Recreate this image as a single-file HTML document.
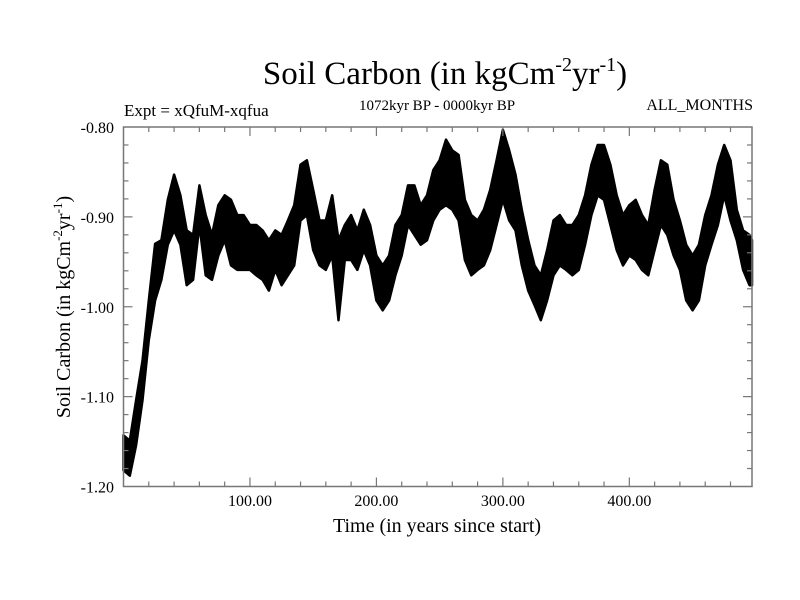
<!DOCTYPE html>
<html><head><meta charset="utf-8"><style>
body{margin:0;background:#fff;}
svg{display:block;font-family:"Liberation Serif",serif;}
</style></head><body>
<svg id="chart" width="800" height="600">
<text x="445" y="84" font-size="33" text-anchor="middle">Soil Carbon (in kgCm<tspan font-size="20" dy="-13">-2</tspan><tspan dy="13">yr</tspan><tspan font-size="20" dy="-13">-1</tspan><tspan dy="13">)</tspan></text>
<text x="124" y="116" font-size="17">Expt = xQfuM-xqfua</text>
<text x="437" y="110" font-size="15" text-anchor="middle">1072kyr BP - 0000kyr BP</text>
<text x="753" y="110" font-size="16" text-anchor="end">ALL_MONTHS</text>
<text x="437" y="532" font-size="20" text-anchor="middle">Time (in years since start)</text>
<text transform="translate(70,307) rotate(-90)" font-size="20" text-anchor="middle">Soil Carbon (in kgCm<tspan font-size="13" dy="-8">-2</tspan><tspan dy="8">yr</tspan><tspan font-size="13" dy="-8">-1</tspan><tspan dy="8">)</tspan></text>
<g id="plot"></g>
</svg>
<script>
const years=[0,5,10,15,20,25,30,35,40,45,50,55,60,65,70,75,80,85,90,95,100,105,110,115,120,125,130,135,140,145,150,155,160,165,170,175,180,185,190,195,200,205,210,215,220,225,230,235,240,245,250,255,260,265,270,275,280,285,290,295,300,305,310,315,320,325,330,335,340,345,350,355,360,365,370,375,380,385,390,395,400,405,410,415,420,425,430,435,440,445,450,455,460,465,470,475,480,485,490,495,497];
const upper=[-1.143,-1.149,-1.104,-1.060,-0.993,-0.930,-0.926,-0.881,-0.853,-0.876,-0.915,-0.920,-0.865,-0.898,-0.920,-0.887,-0.876,-0.881,-0.898,-0.898,-0.909,-0.909,-0.915,-0.926,-0.915,-0.920,-0.904,-0.887,-0.842,-0.837,-0.870,-0.904,-0.904,-0.876,-0.926,-0.909,-0.898,-0.915,-0.892,-0.909,-0.943,-0.954,-0.943,-0.909,-0.898,-0.865,-0.865,-0.887,-0.876,-0.848,-0.837,-0.814,-0.826,-0.831,-0.881,-0.898,-0.904,-0.892,-0.870,-0.837,-0.803,-0.826,-0.853,-0.892,-0.926,-0.954,-0.965,-0.937,-0.904,-0.898,-0.909,-0.909,-0.898,-0.876,-0.842,-0.820,-0.820,-0.842,-0.876,-0.898,-0.887,-0.881,-0.898,-0.909,-0.870,-0.837,-0.842,-0.881,-0.904,-0.931,-0.943,-0.931,-0.898,-0.876,-0.842,-0.820,-0.837,-0.892,-0.915,-0.920,-0.926];
const lower=[-1.182,-1.188,-1.154,-1.104,-1.037,-0.993,-0.970,-0.931,-0.915,-0.931,-0.976,-0.970,-0.909,-0.965,-0.970,-0.943,-0.926,-0.954,-0.959,-0.959,-0.959,-0.965,-0.970,-0.982,-0.959,-0.976,-0.965,-0.954,-0.904,-0.898,-0.937,-0.954,-0.959,-0.943,-1.015,-0.948,-0.948,-0.959,-0.937,-0.954,-0.993,-1.004,-0.993,-0.965,-0.943,-0.909,-0.920,-0.931,-0.926,-0.904,-0.892,-0.887,-0.892,-0.904,-0.948,-0.965,-0.959,-0.954,-0.937,-0.909,-0.881,-0.904,-0.915,-0.954,-0.982,-0.998,-1.015,-0.993,-0.965,-0.954,-0.959,-0.965,-0.959,-0.931,-0.898,-0.876,-0.881,-0.909,-0.937,-0.954,-0.943,-0.948,-0.959,-0.965,-0.937,-0.909,-0.920,-0.943,-0.959,-0.993,-1.004,-0.993,-0.954,-0.931,-0.909,-0.876,-0.904,-0.926,-0.959,-0.976,-0.976];
const xTickLabels=["100.00","200.00","300.00","400.00"];
const xTickValues=[100,200,300,400];
const yTickLabels=["-0.80","-0.90","-1.00","-1.10","-1.20"];
const yTickValues=[-0.8,-0.9,-1.0,-1.1,-1.2];

const L=123.5,R=752,T=127,B=486.5,XMIN=0,XMAX=497,YMIN=-1.2,YMAX=-0.8;
const xs=v=>L+(v-XMIN)/(XMAX-XMIN)*(R-L);
const ys=v=>B-(v-YMIN)/(YMAX-YMIN)*(B-T);
const NS="http://www.w3.org/2000/svg";
const g=document.getElementById('plot');
function mk(tag,attrs){const e=document.createElementNS(NS,tag);for(const k in attrs)e.setAttribute(k,attrs[k]);g.appendChild(e);return e;}

let pts=[];
for(let i=0;i<years.length;i++)pts.push(xs(years[i]).toFixed(1)+','+ys(upper[i]).toFixed(1));
for(let i=years.length-1;i>=0;i--)pts.push(xs(years[i]).toFixed(1)+','+ys(lower[i]).toFixed(1));
const band=mk('polygon',{points:pts.join(' '),fill:'#000',stroke:'#000','stroke-width':2.5,'stroke-linejoin':'round'});



const frame=mk('rect',{x:L,y:T,width:R-L,height:B-T,fill:'none',stroke:'#777','stroke-width':1.5});



for(let v=20;v<XMAX;v+=20){
  const major=v%100===0,len=major?9:5,x=xs(v);
  const t1=mk('line',{x1:x,y1:B,x2:x,y2:B-len,stroke:'#777','stroke-width':1.2});
  
  
  const t2=mk('line',{x1:x,y1:T,x2:x,y2:T+len,stroke:'#777','stroke-width':1.2});
  
  
}
xTickLabels.forEach((s,i)=>{
  const t=mk('text',{x:xs(xTickValues[i]),y:506,'font-size':16,'text-anchor':'middle'});
  t.textContent=s;
  
  
});
for(let k=1;k<20;k++){
  const v=YMIN+k*0.02,major=k%5===0,len=major?9:5,y=ys(v);
  const t1=mk('line',{x1:L,y1:y,x2:L+len,y2:y,stroke:'#777','stroke-width':1.2});
  
  
  const t2=mk('line',{x1:R,y1:y,x2:R-len,y2:y,stroke:'#777','stroke-width':1.2});
  
  
}
yTickLabels.forEach((s,i)=>{
  const t=mk('text',{x:114,y:ys(yTickValues[i])+6,'font-size':16,'text-anchor':'end'});
  t.textContent=s;
  
  
});
</script>
</body></html>
